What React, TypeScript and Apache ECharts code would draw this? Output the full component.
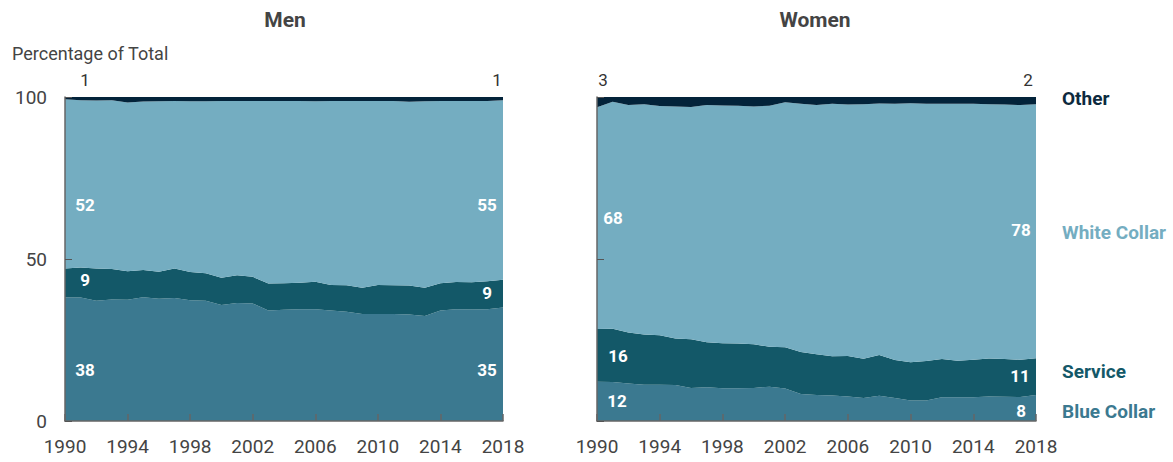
import React, { useEffect, useRef } from "react";
import * as echarts from "echarts";

const years = ["1990","1991","1992","1993","1994","1995","1996","1997","1998","1999","2000","2001","2002","2003","2004","2005","2006","2007","2008","2009","2010","2011","2012","2013","2014","2015","2016","2017","2018"];

const menBlue = [38.1,38.1,37.1,37.5,37.4,38.2,37.7,38.0,37.3,37.1,35.8,36.4,36.3,34.1,34.3,34.5,34.5,34.1,33.7,33.0,33.0,33.0,32.9,32.4,34.1,34.5,34.4,34.5,35.0];
const menService = [9.0,9.3,10.0,9.4,8.8,8.4,8.4,9.1,8.7,8.5,8.4,8.6,8.2,8.3,8.2,8.2,8.5,7.9,8.2,8.1,9.0,8.9,8.9,8.7,8.4,8.4,8.4,8.6,8.6];
const menWhite = [52.2,51.6,51.8,52.1,52.1,52.0,52.6,51.7,52.7,53.1,54.6,53.8,54.3,56.4,56.3,56.1,55.7,56.8,56.9,57.7,56.8,56.9,56.7,57.6,56.3,55.9,56.0,55.7,55.4];
const menOther = [0.7,1.0,1.1,1.0,1.7,1.4,1.3,1.2,1.3,1.3,1.2,1.2,1.2,1.2,1.2,1.2,1.3,1.2,1.2,1.2,1.2,1.2,1.5,1.3,1.2,1.2,1.2,1.2,1.0];

const womenBlue = [12.1,12.0,11.6,11.2,11.2,11.1,10.2,10.4,10.1,10.1,10.2,10.6,10.0,8.3,8.0,7.9,7.6,7.1,7.8,7.1,6.3,6.3,7.3,7.3,7.3,7.6,7.5,7.4,8.0];
const womenService = [16.3,16.5,15.7,15.5,15.3,14.4,15.0,13.9,13.9,13.8,13.5,12.3,12.8,13.0,12.6,12.1,12.5,12.1,12.6,11.7,11.8,12.2,11.8,11.3,11.6,11.7,11.6,11.5,11.4];
const womenWhite = [68.4,70.0,70.2,71.1,70.7,71.6,71.7,73.2,73.4,73.4,73.4,74.4,75.6,76.6,76.9,77.9,77.6,78.6,77.6,79.1,80.0,79.4,78.8,79.3,79.0,78.5,78.6,78.6,78.4];
const womenOther = [3.2,1.5,2.5,2.2,2.8,2.9,3.1,2.5,2.6,2.7,2.9,2.7,1.6,2.1,2.5,2.1,2.3,2.2,2.0,2.1,1.9,2.1,2.1,2.1,2.1,2.2,2.3,2.5,2.2];

const categoryNames = ["Blue Collar", "Service", "White Collar", "Other"];
const panelTitles = ["Men", "Women"];
const yTicks = [0, 50, 100];
const yAxisTitle = "Percentage of Total";

const COLORS = ["#3b7990", "#135868", "#74adc1", "#03233a"];
const FONT = "Roboto, 'Noto Sans', sans-serif";

export default function App() {
  const ref = useRef<HTMLDivElement>(null);
  useEffect(() => {
    if (!ref.current) return;
    const chart = echarts.init(ref.current, null, { renderer: "svg" });
    const panels = [
      [menBlue, menService, menWhite, menOther],
      [womenBlue, womenService, womenWhite, womenOther],
    ];
    const grids = [
      { left: 65, top: 97, width: 438, height: 324 },
      { left: 597, top: 97, width: 439, height: 324 },
    ];
    const xAxes = grids.map((_, i) => ({
      type: "category",
      gridIndex: i,
      data: years,
      boundaryGap: false,
      axisLine: { show: true, lineStyle: { color: "#666", width: 1.5 } },
      axisTick: { show: true, inside: true, interval: 3, length: 7, lineStyle: { color: "#666", width: 1.5 } },
      axisLabel: { interval: 3, color: "#444", fontSize: 19, fontFamily: FONT, margin: 16 },
      z: 5,
    }));
    const yAxes = grids.map((_, i) => ({
      type: "value",
      gridIndex: i,
      min: yTicks[0],
      max: yTicks[yTicks.length - 1],
      interval: 50,
      splitLine: { show: false },
      axisLine: { show: true, lineStyle: { color: "#666", width: 1.5 } },
      axisTick: { show: true, inside: true, length: 7, lineStyle: { color: "#555" } },
      axisLabel: { show: i === 0, color: "#444", fontSize: 19, fontFamily: FONT, margin: 18 },
      z: 5,
    }));
    const series: any[] = [];
    panels.forEach((p, gi) => {
      p.forEach((vals, si) => {
        series.push({
          type: "line",
          name: categoryNames[si],
          xAxisIndex: gi,
          yAxisIndex: gi,
          stack: "s" + gi,
          data: vals,
          symbol: "none",
          lineStyle: { width: 0 },
          areaStyle: { color: COLORS[si], opacity: 1 },
          itemStyle: { color: COLORS[si] },
        });
      });
    });

    const r = (v: number) => String(Math.round(v));
    const last = (a: number[]) => a[a.length - 1];
    const num = (text: string, x: number, y: number, fill = "#fff", bold = true, align = "center") => ({
      type: "text",
      x,
      y,
      style: {
        text,
        fill,
        font: `${bold ? "bold " : ""}17px ${FONT}`,
        textAlign: align,
        textVerticalAlign: "middle",
      },
      z: 10,
    });
    const side = (text: string, y: number, fill: string) => ({
      type: "text",
      x: 1062,
      y,
      style: { text, fill, font: `bold 19px ${FONT}`, textAlign: "left", textVerticalAlign: "middle" },
      z: 10,
    });

    const graphic: any[] = [
      { type: "text", x: 285, y: 20, style: { text: panelTitles[0], fill: "#444", font: `bold 21px ${FONT}`, textAlign: "center", textVerticalAlign: "middle" } },
      { type: "text", x: 815, y: 20, style: { text: panelTitles[1], fill: "#444", font: `bold 21px ${FONT}`, textAlign: "center", textVerticalAlign: "middle" } },
      { type: "text", x: 12, y: 53, style: { text: yAxisTitle, fill: "#444", font: `18px ${FONT}`, textAlign: "left", textVerticalAlign: "middle" } },
      // Men
      num(r(menOther[0]), 85, 80, "#333", false),
      num(r(last(menOther)), 497, 80, "#333", false),
      num(r(menWhite[0]), 85, 205),
      num(r(menService[0]), 85, 280),
      num(r(menBlue[0]), 85, 370),
      num(r(last(menWhite)), 487, 205),
      num(r(last(menService)), 487, 293),
      num(r(last(menBlue)), 487, 370),
      // Women
      num(r(womenOther[0]), 603, 80, "#333", false),
      num(r(last(womenOther)), 1028, 80, "#333", false),
      num(r(womenWhite[0]), 613, 218),
      num(r(womenService[0]), 618, 356),
      num(r(womenBlue[0]), 617, 401),
      num(r(last(womenWhite)), 1021, 230),
      num(r(last(womenService)), 1020, 376),
      num(r(last(womenBlue)), 1021, 411),
      // Side labels
      side(categoryNames[3], 98, "#0d2a3e"),
      side(categoryNames[2], 232, COLORS[2]),
      side(categoryNames[1], 371, COLORS[1]),
      side(categoryNames[0], 411, COLORS[0]),
    ];

    chart.setOption({
      animation: false,
      grid: grids,
      xAxis: xAxes,
      yAxis: yAxes,
      series,
      graphic,
    });
    return () => chart.dispose();
  }, []);
  return (
    <div
      ref={ref}
      style={{ position: "fixed", left: 0, top: 0, width: 1173, height: 462, background: "#fff" }}
    />
  );
}
